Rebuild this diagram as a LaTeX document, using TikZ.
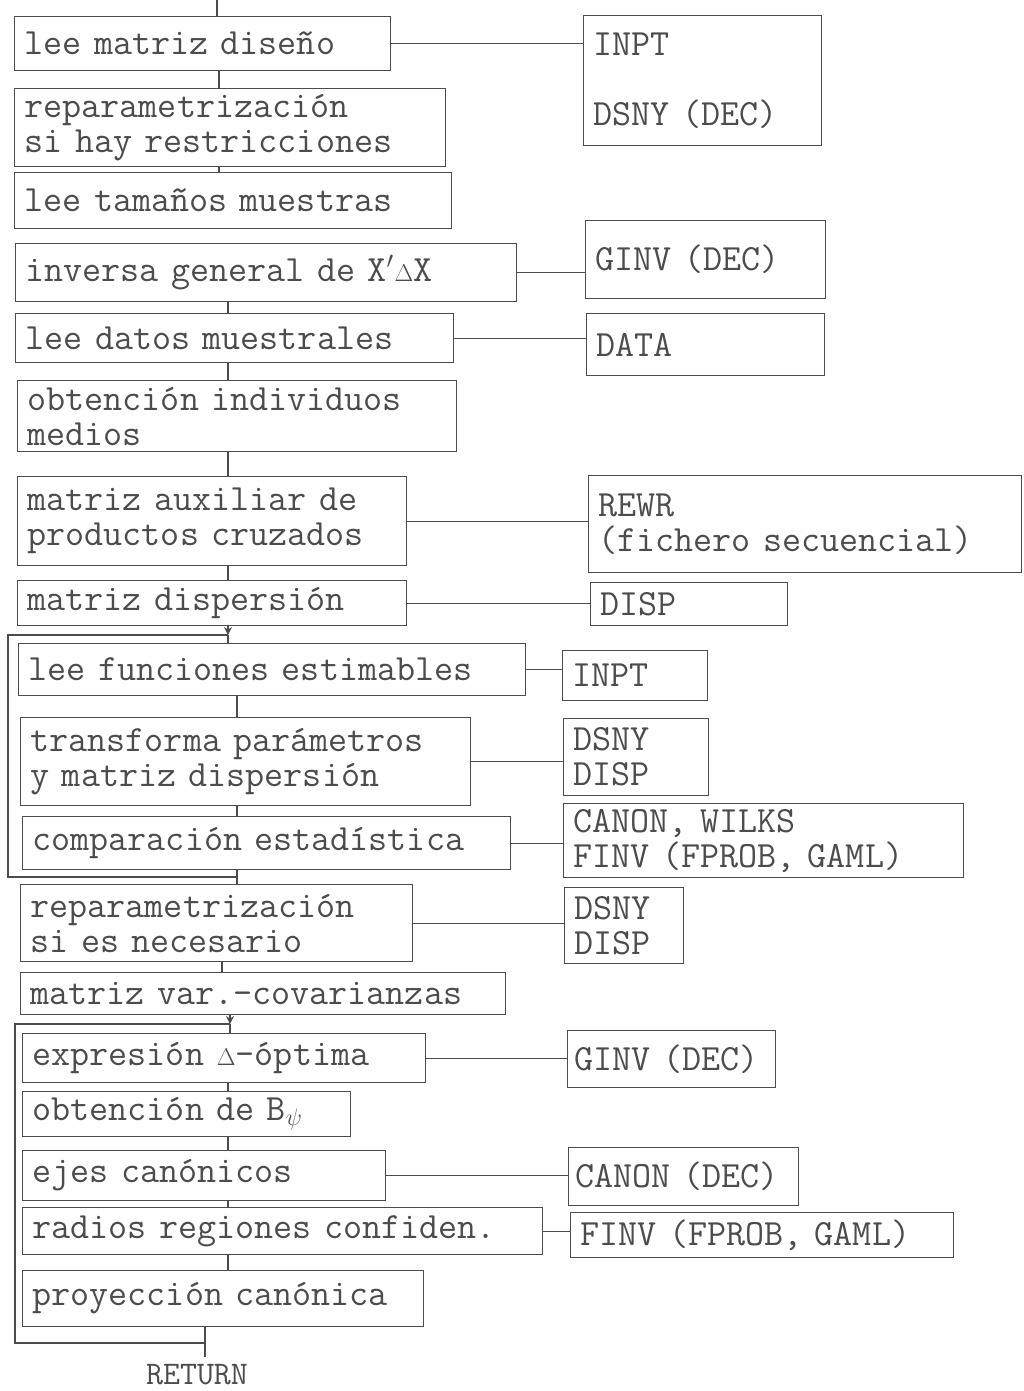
\documentclass[tikz,border=0pt]{standalone}
\usepackage{fontspec}
\usepackage{tikz}
\usetikzlibrary{arrows.meta,positioning,calc}
\definecolor{Ink}{gray}{0.3}
\newcommand{\dlt}{\makebox[0.525em]{\scalebox{0.7}{$\Delta$}}}

\begin{document}
\begin{tikzpicture}[x=0.5pt,y=-0.5pt,font=\ttfamily\fontsize{18.5}{17.5}\selectfont,
    proc/.style={draw=Ink,line width=0.6pt,text=Ink,anchor=north west,inner xsep=5pt,inner ysep=0pt,align=left},
    link/.style={draw=Ink,line width=0.6pt}]
  \useasboundingbox (0,0) rectangle (1023,1391);
  % main column
  \node[proc,minimum width=188pt,minimum height=27pt,text width=178pt] (b1) at (14,16) {lee matriz diseño};
  \node[proc,minimum width=215.5pt,minimum height=39pt,text width=205.5pt] (b2) at (14,88) {reparametrización\\si hay restricciones};
  \node[proc,minimum width=218.5pt,minimum height=28pt,text width=208.5pt] (b3) at (14,172) {lee tamaños muestras};
  \node[proc,minimum width=250.5pt,minimum height=29pt,text width=240.5pt] (b4) at (15,243) {inversa general de X$^{\prime}$\dlt X};
  \node[proc,minimum width=219pt,minimum height=24.5pt,text width=209pt] (b5) at (15,313) {lee datos muestrales};
  \node[proc,minimum width=219.5pt,minimum height=35.5pt,text width=209.5pt] (b6) at (17,380) {obtención individuos\\medios};
  \node[proc,minimum width=194.5pt,minimum height=44.5pt,text width=184.5pt] (b7) at (17,476) {matriz auxiliar de\\productos cruzados};
  \node[proc,minimum width=194.5pt,minimum height=22.5pt,text width=184.5pt] (b8) at (17,580) {matriz dispersión};
  \node[proc,minimum width=253.5pt,minimum height=26pt,text width=243.5pt] (b9) at (18,643) {lee funciones estimables};
  \node[proc,minimum width=225pt,minimum height=44pt,text width=215pt] (b10) at (20,717) {transforma parámetros\\y matriz dispersión};
  \node[proc,minimum width=244pt,minimum height=26.5pt,text width=234pt] (b11) at (22,816) {comparación estadística};
  \node[proc,minimum width=196pt,minimum height=38.5pt,text width=186pt] (b12) at (20,884) {reparametrización\\si es necesario};
  \node[proc,minimum width=242.5pt,minimum height=21pt,text width=232.5pt] (b13) at (20,972) {matriz var.-covarianzas};
  \node[proc,minimum width=201.5pt,minimum height=24.5pt,text width=191.5pt] (b14) at (22,1033) {expresión \dlt-óptima};
  \node[proc,minimum width=164pt,minimum height=22.5pt,text width=154pt] (b15) at (22,1091) {obtención de B$_\psi$};
  \node[proc,minimum width=181.5pt,minimum height=25pt,text width=171.5pt] (b16) at (22,1150) {ejes canónicos};
  \node[proc,minimum width=260pt,minimum height=23.5pt,text width=250pt] (b17) at (22,1207) {radios regiones confiden.};
  \node[proc,minimum width=200.5pt,minimum height=28pt,text width=190.5pt] (b18) at (22,1270) {proyección canónica};
  \node[text=Ink,inner sep=1pt,font=\ttfamily\fontsize{16.5}{17.5}\selectfont] (ret) at (197,1375) {RETURN};
  % subroutines
  \node[proc,minimum width=119pt,minimum height=65pt,text width=109pt] (r1) at (583,15) {INPT\\[17.5pt]DSNY (DEC)};
  \node[proc,minimum width=120pt,minimum height=39pt,text width=110pt] (r2) at (585,220) {GINV (DEC)};
  \node[proc,minimum width=119pt,minimum height=31pt,text width=109pt] (r3) at (586,313) {DATA};
  \node[proc,minimum width=216.5pt,minimum height=48.5pt,text width=206.5pt] (r4) at (588,475) {REWR\\(fichero secuencial)};
  \node[proc,minimum width=98.5pt,minimum height=21.5pt,text width=88.5pt] (r5) at (590,582) {DISP};
  \node[proc,minimum width=72.5pt,minimum height=25pt,text width=62.5pt] (r6) at (562,650) {INPT};
  \node[proc,minimum width=72.5pt,minimum height=38.5pt,text width=62.5pt] (r7) at (563,718) {DSNY\\DISP};
  \node[proc,minimum width=200pt,minimum height=37pt,text width=190pt] (r8) at (563,803) {CANON, WILKS\\FINV (FPROB, GAML)};
  \node[proc,minimum width=59.5pt,minimum height=38pt,text width=49.5pt] (r9) at (564,887) {DSNY\\DISP};
  \node[proc,inner xsep=3.5pt,minimum width=104pt,minimum height=28.5pt,text width=97pt] (r10) at (567,1030) {GINV~(DEC)};
  \node[proc,inner xsep=3.5pt,minimum width=115pt,minimum height=29pt,text width=108pt] (r11) at (568,1147) {CANON~(DEC)};
  \node[proc,minimum width=191.5pt,minimum height=22.5pt,text width=181.5pt] (r12) at (570,1212) {FINV (FPROB, GAML)};
  % spine points
  \coordinate (start) at (217,0);
  \coordinate (sA) at (219,0);
  \coordinate (sC) at (228,0);
  \coordinate (sF) at (222,0);
  \coordinate (lp1a) at (228,635);
  \coordinate (lp1b) at (237,877);
  \coordinate (lp1c) at (8,877);
  \coordinate (lp2a) at (230,1024);
  \coordinate (lp2b) at (205,1343);
  \coordinate (lp2c) at (15,1343);
  \coordinate (stop) at (205,1357);
  % flow
  \draw[link] (start) -- (b1.north -| start);
  \draw[link] (b1.south -| sA) -- (b2.north -| sA);
  \draw[link] (b2.south -| sA) -- (b3.north -| sA);
  \draw[link] (b4.south -| sC) -- (b5.north -| sC);
  \draw[link] (b5.south -| sC) -- (b6.north -| sC);
  \draw[link] (b6.south -| sC) -- (b7.north -| sC);
  \draw[link] (b7.south -| sC) -- (b8.north -| sC);
  \draw[link,-{Stealth[length=4pt,width=4pt]}] (b8.south -| lp1a) -- (lp1a);
  \draw[link] (lp1a) -- (b9.north -| lp1a);
  \draw[link] (lp1a) -| (lp1c) -- (lp1b);
  \draw[link] (b9.south -| lp1b) -- (b10.north -| lp1b);
  \draw[link] (b10.south -| lp1b) -- (b11.north -| lp1b);
  \draw[link] (b11.south -| lp1b) -- (lp1b) -- (b12.north -| lp1b);
  \draw[link] (b12.south -| sF) -- (b13.north -| sF);
  \draw[link,-{Stealth[length=4pt,width=4pt]}] (b13.south -| lp2a) -- (lp2a);
  \draw[link] (lp2a) -- (b14.north -| lp2a);
  \draw[link] (lp2a) -| (lp2c) -- (lp2b);
  \draw[link] (b14.south -| sC) -- (b15.north -| sC);
  \draw[link] (b15.south -| sC) -- (b16.north -| sC);
  \draw[link] (b16.south -| sC) -- (b17.north -| sC);
  \draw[link] (b17.south -| sC) -- (b18.north -| sC);
  \draw[link] (b18.south -| lp2b) -- (lp2b) -- (stop);
  % calls
  \draw[link] (b1.east) -- (b1.east -| r1.west);
  \draw[link] (b4.east) -- (b4.east -| r2.west);
  \draw[link] (b5.east) -- (b5.east -| r3.west);
  \draw[link] (b7.east) -- (b7.east -| r4.west);
  \draw[link] (b8.east) -- (b8.east -| r5.west);
  \draw[link] (b9.east) -- (b9.east -| r6.west);
  \draw[link] (b10.east) -- (b10.east -| r7.west);
  \draw[link] (b11.east) -- (b11.east -| r8.west);
  \draw[link] (b12.east) -- (b12.east -| r9.west);
  \draw[link] (b14.east) -- (b14.east -| r10.west);
  \draw[link] (b16.east) -- (b16.east -| r11.west);
  \draw[link] (b17.east) -- (b17.east -| r12.west);
\end{tikzpicture}
\end{document}
